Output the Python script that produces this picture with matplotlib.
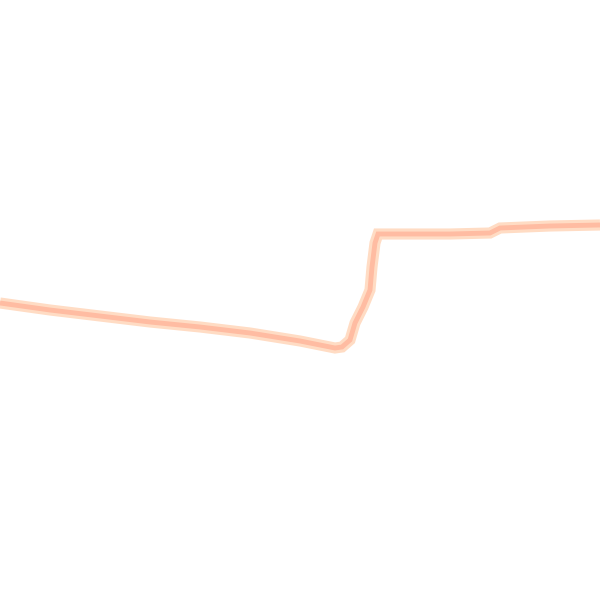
import matplotlib
matplotlib.use("Agg")
import matplotlib.pyplot as plt

x = [0, 50, 100, 150, 200, 250, 300, 335, 342, 350, 355, 363, 370, 372, 375, 378, 400, 450, 490, 500, 550, 600]
y = [303, 310, 316, 322, 327, 333, 341, 348, 347, 340, 323, 307, 290, 267, 243, 234, 234, 234, 233, 228, 226, 225]

fig = plt.figure(figsize=(6, 6), dpi=100)
ax = fig.add_axes([0, 0, 1, 1])
ax.plot(x, y, color="#FFDCC4", lw=8, solid_capstyle="butt", solid_joinstyle="miter")
ax.plot(x, y, color="#FFBCA2", lw=3.5, solid_capstyle="butt", solid_joinstyle="miter")
ax.set_xlim(0, 600)
ax.set_ylim(600, 0)
ax.axis("off")
fig.savefig("out.png", dpi=100)
